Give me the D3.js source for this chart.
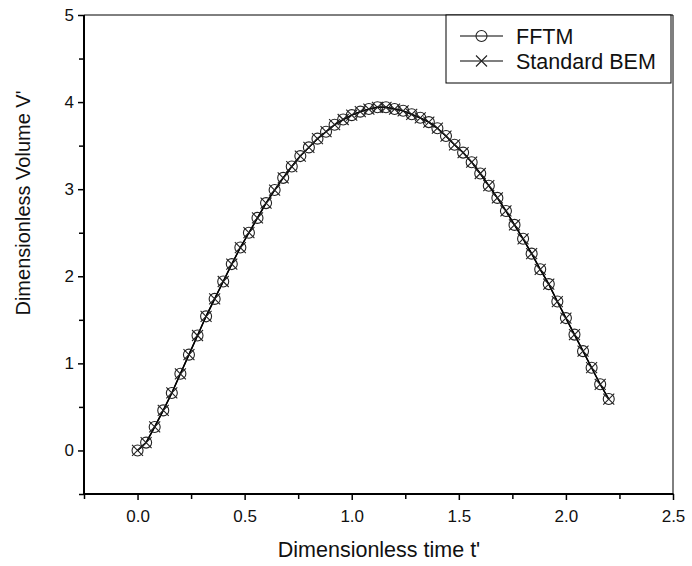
<!DOCTYPE html>
<html lang="en">
  <head>
    <meta charset="utf-8">
    <title>Dimensionless volume vs time</title>
    <script src="https://d3js.org/d3.v7.min.js"></script>
    <style type="text/css">
        body {
          margin: 0;
          background: #fff;
        }
        svg text {
          font-family: Arial, "Liberation Sans", sans-serif;
          fill: #111;
        }
        .tick-label { font-size: 17px; }
        .axis-title { font-size: 20px; }
        .x-title { font-size: 21.5px; }
        .legend text { font-size: 21.5px; }
        .series-line {
          fill: none;
          stroke: #000;
          stroke-width: 1.4px;
        }
        .marker {
          fill: none;
          stroke: #222;
          stroke-width: 1.1px;
        }
    </style>
  </head>
  <body>
    <div id="chart"></div>
    <script>
        // time values t'
        var times = [0.00, 0.04, 0.08, 0.12, 0.16, 0.20, 0.24, 0.28, 0.32, 0.36,
                     0.40, 0.44, 0.48, 0.52, 0.56, 0.60, 0.64, 0.68, 0.72, 0.76,
                     0.80, 0.84, 0.88, 0.92, 0.96, 1.00, 1.04, 1.08, 1.12, 1.16,
                     1.20, 1.24, 1.28, 1.32, 1.36, 1.40, 1.44, 1.48, 1.52, 1.56,
                     1.60, 1.64, 1.68, 1.72, 1.76, 1.80, 1.84, 1.88, 1.92, 1.96,
                     2.00, 2.04, 2.08, 2.12, 2.16, 2.20];

        // volume V' - FFTM
        var fftm = [0.00, 0.09, 0.27, 0.46, 0.66, 0.88, 1.10, 1.32, 1.54, 1.74,
                    1.94, 2.14, 2.33, 2.50, 2.67, 2.84, 2.99, 3.13, 3.26, 3.38,
                    3.48, 3.58, 3.66, 3.74, 3.80, 3.85, 3.89, 3.92, 3.94, 3.94,
                    3.92, 3.90, 3.86, 3.82, 3.77, 3.70, 3.61, 3.51, 3.42, 3.31,
                    3.18, 3.04, 2.90, 2.75, 2.59, 2.43, 2.26, 2.08, 1.91, 1.71,
                    1.52, 1.33, 1.14, 0.95, 0.76, 0.59];

        // volume V' - standard BEM
        var bem = [0.00, 0.09, 0.27, 0.46, 0.66, 0.88, 1.10, 1.32, 1.54, 1.74,
                   1.94, 2.14, 2.33, 2.50, 2.67, 2.84, 2.99, 3.13, 3.26, 3.38,
                   3.48, 3.58, 3.66, 3.74, 3.80, 3.85, 3.89, 3.92, 3.94, 3.94,
                   3.92, 3.90, 3.86, 3.82, 3.77, 3.70, 3.61, 3.51, 3.42, 3.31,
                   3.18, 3.04, 2.90, 2.75, 2.59, 2.43, 2.26, 2.08, 1.91, 1.71,
                   1.52, 1.33, 1.14, 0.95, 0.76, 0.59];

        var xMajor = [0.0, 0.5, 1.0, 1.5, 2.0, 2.5];
        var xMinor = [-0.25, 0.25, 0.75, 1.25, 1.75, 2.25];
        var yMajor = [0, 1, 2, 3, 4, 5];
        var yMinor = [-0.5, 0.5, 1.5, 2.5, 3.5, 4.5];

        var width = 692, height = 566;
        var margin = {top: 15, right: 19, bottom: 72, left: 84};

        var svg = d3.select("#chart").append("svg")
            .attr("width", width)
            .attr("height", height);

        var x = d3.scaleLinear().domain([-0.25, 2.5]).range([margin.left, width - margin.right]);
        var y = d3.scaleLinear().domain([-0.5, 5]).range([height - margin.bottom, margin.top]);

        var x0 = x.range()[0], x1 = x.range()[1];
        var y0 = y.range()[0], y1 = y.range()[1];

        // thin top & right frame
        svg.append("path")
            .attr("d", "M" + x0 + "," + y1 + "H" + x1 + "V" + y0)
            .attr("fill", "none")
            .attr("stroke", "#000")
            .attr("stroke-width", 1);

        // bottom axis
        var xAxis = svg.append("g").attr("transform", "translate(0," + y0 + ")");
        xAxis.append("g")
            .call(d3.axisBottom(x).tickValues(xMinor).tickSize(5).tickFormat(""))
            .call(function(g) { g.select(".domain").remove(); });
        xAxis.append("g")
            .call(d3.axisBottom(x).tickValues(xMajor).tickSize(6).tickPadding(10).tickFormat(d3.format(".1f")))
            .call(function(g) { g.select(".domain").remove(); })
            .selectAll("text").attr("class", "tick-label").attr("fill", "#111");
        xAxis.selectAll("line").attr("stroke-width", 1.5);
        xAxis.append("line")
            .attr("x1", x0 - 1).attr("x2", x1 + 0.5)
            .attr("stroke", "#000").attr("stroke-width", 2);

        // left axis
        var yAxis = svg.append("g").attr("transform", "translate(" + x0 + ",0)");
        yAxis.append("g")
            .call(d3.axisLeft(y).tickValues(yMinor).tickSize(5).tickFormat(""))
            .call(function(g) { g.select(".domain").remove(); });
        yAxis.append("g")
            .call(d3.axisLeft(y).tickValues(yMajor).tickSize(6).tickPadding(4).tickFormat(d3.format("d")))
            .call(function(g) { g.select(".domain").remove(); })
            .selectAll("text").attr("class", "tick-label").attr("fill", "#111");
        yAxis.selectAll("line").attr("stroke-width", 1.5);
        yAxis.append("line")
            .attr("y1", y0 + 1).attr("y2", y1)
            .attr("stroke", "#000").attr("stroke-width", 2);

        // axis titles
        svg.append("text")
            .attr("class", "x-title")
            .attr("x", 379)
            .attr("y", 557)
            .attr("text-anchor", "middle")
            .text("Dimensionless time t'");

        svg.append("text")
            .attr("class", "axis-title")
            .attr("transform", "translate(30," + 203 + ") rotate(-90)")
            .attr("text-anchor", "middle")
            .text("Dimensionless Volume V'");

        var line = d3.line()
            .x(function(d) { return x(d[0]); })
            .y(function(d) { return y(d[1]); });

        var seriesF = times.map(function(t, i) { return [t, fftm[i]]; });
        var seriesB = times.map(function(t, i) { return [t, bem[i]]; });

        svg.append("path").datum(seriesB).attr("class", "series-line").attr("d", line);
        svg.append("path").datum(seriesF).attr("class", "series-line").attr("d", line);

        var r = 5.5;
        function drawCircle(g, cx, cy) {
          g.append("circle").attr("class", "marker").attr("cx", cx).attr("cy", cy).attr("r", r);
        }
        function drawCross(g, cx, cy) {
          var s = 5.5;
          g.append("path").attr("class", "marker")
            .attr("d", "M" + (cx - s) + "," + (cy - s) + "L" + (cx + s) + "," + (cy + s) +
                       "M" + (cx - s) + "," + (cy + s) + "L" + (cx + s) + "," + (cy - s));
        }

        var markers = svg.append("g");
        seriesF.forEach(function(d) { drawCircle(markers, x(d[0]), y(d[1])); });
        seriesB.forEach(function(d) { drawCross(markers, x(d[0]), y(d[1])); });

        // legend
        var legend = svg.append("g").attr("class", "legend");
        legend.append("rect")
            .attr("x", 446).attr("y", y1)
            .attr("width", 225).attr("height", 68)
            .attr("fill", "#fff").attr("stroke", "#000").attr("stroke-width", 1);

        var items = [{name: "FFTM", sym: drawCircle, y: 36}, {name: "Standard BEM", sym: drawCross, y: 61}];
        items.forEach(function(it) {
          legend.append("line")
            .attr("x1", 460).attr("x2", 503)
            .attr("y1", it.y).attr("y2", it.y)
            .attr("stroke", "#000").attr("stroke-width", 1.2);
          it.sym(legend, 481.5, it.y);
          legend.append("text")
            .attr("x", 516).attr("y", it.y + 8)
            .text(it.name);
        });
    </script>
  </body>
</html>
